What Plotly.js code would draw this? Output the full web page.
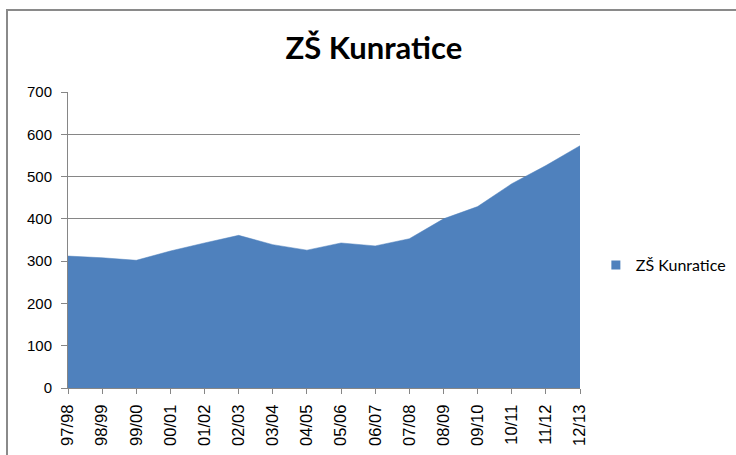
<!DOCTYPE html>
<html>
<head>
<meta charset="utf-8">
<script src="https://cdn.plot.ly/plotly-3.0.1.min.js"></script>
<style>
html,body{margin:0;padding:0;background:#fff;}
#wrap{position:relative;width:736px;height:455px;}
#chart{width:736px;height:455px;}
#frame{position:absolute;left:6px;top:9px;width:740px;height:460px;border-top:2px solid #8a8a8a;border-left:2px solid #8a8a8a;pointer-events:none;}
</style>
</head>
<body>
<div id="wrap"><div id="chart"></div><div id="frame"></div></div>
<script>
const categories = ["97/98","98/99","99/00","00/01","01/02","02/03","03/04","04/05","05/06","06/07","07/08","08/09","09/10","10/11","11/12","12/13"];
const pupils = [312, 308, 302, 324, 343, 361, 339, 326, 343, 336, 353, 400, 429, 483, 526, 573];
const seriesName = "ZŠ Kunratice";
const chartTitle = "ZŠ Kunratice";
const yTicks = [0, 100, 200, 300, 400, 500, 600, 700];

const blue = "#4F81BD";
const traces = [
  {
    x: categories, y: pupils, type: "scatter", mode: "lines",
    fill: "tozeroy", fillcolor: blue,
    line: {color: blue, width: 0.5},
    name: seriesName, showlegend: false, hoverinfo: "x+y"
  },
  {
    x: [null], y: [null], type: "scatter", mode: "markers",
    marker: {symbol: "square", size: 9, color: blue},
    name: seriesName, showlegend: true
  }
];
const layout = {
  width: 736, height: 455,
  margin: {l: 68, r: 156, t: 92, b: 67, autoexpand: false},
  paper_bgcolor: "#fff", plot_bgcolor: "#fff",
  title: {text: "<b>" + chartTitle + "</b>", x: 0.508, xanchor: "center", y: 0.895, yanchor: "middle",
          font: {family: "Lato, 'Open Sans', sans-serif", size: 31, color: "#000"}},
  xaxis: {
    type: "category", range: [0, categories.length - 1],
    tickangle: -90, ticks: "outside", ticklen: 5, tickcolor: "#868686",
    ticklabelstandoff: 4,
    showline: true, linecolor: "#868686", linewidth: 1,
    showgrid: false, zeroline: false,
    tickfont: {family: "'Liberation Sans', Arial, sans-serif", size: 16.5, color: "#000"}
  },
  yaxis: {
    range: [0, 700], tickvals: yTicks, ticks: "outside", ticklen: 6, tickcolor: "#868686",
    ticklabelstandoff: 6,
    showline: true, linecolor: "#868686", linewidth: 1,
    showgrid: true, gridcolor: "#868686", gridwidth: 1, zeroline: false,
    tickfont: {family: "'Liberation Sans', Arial, sans-serif", size: 15, color: "#000"}
  },
  legend: {x: 1.031, y: 0.415, xanchor: "left", yanchor: "middle",
           font: {family: "Lato, 'Open Sans', sans-serif", size: 16, color: "#000"},
           itemwidth: 30, bgcolor: "rgba(0,0,0,0)"},
  showlegend: true
};
Plotly.newPlot("chart", traces, layout, {displayModeBar: false, staticPlot: true});
</script>
</body>
</html>
